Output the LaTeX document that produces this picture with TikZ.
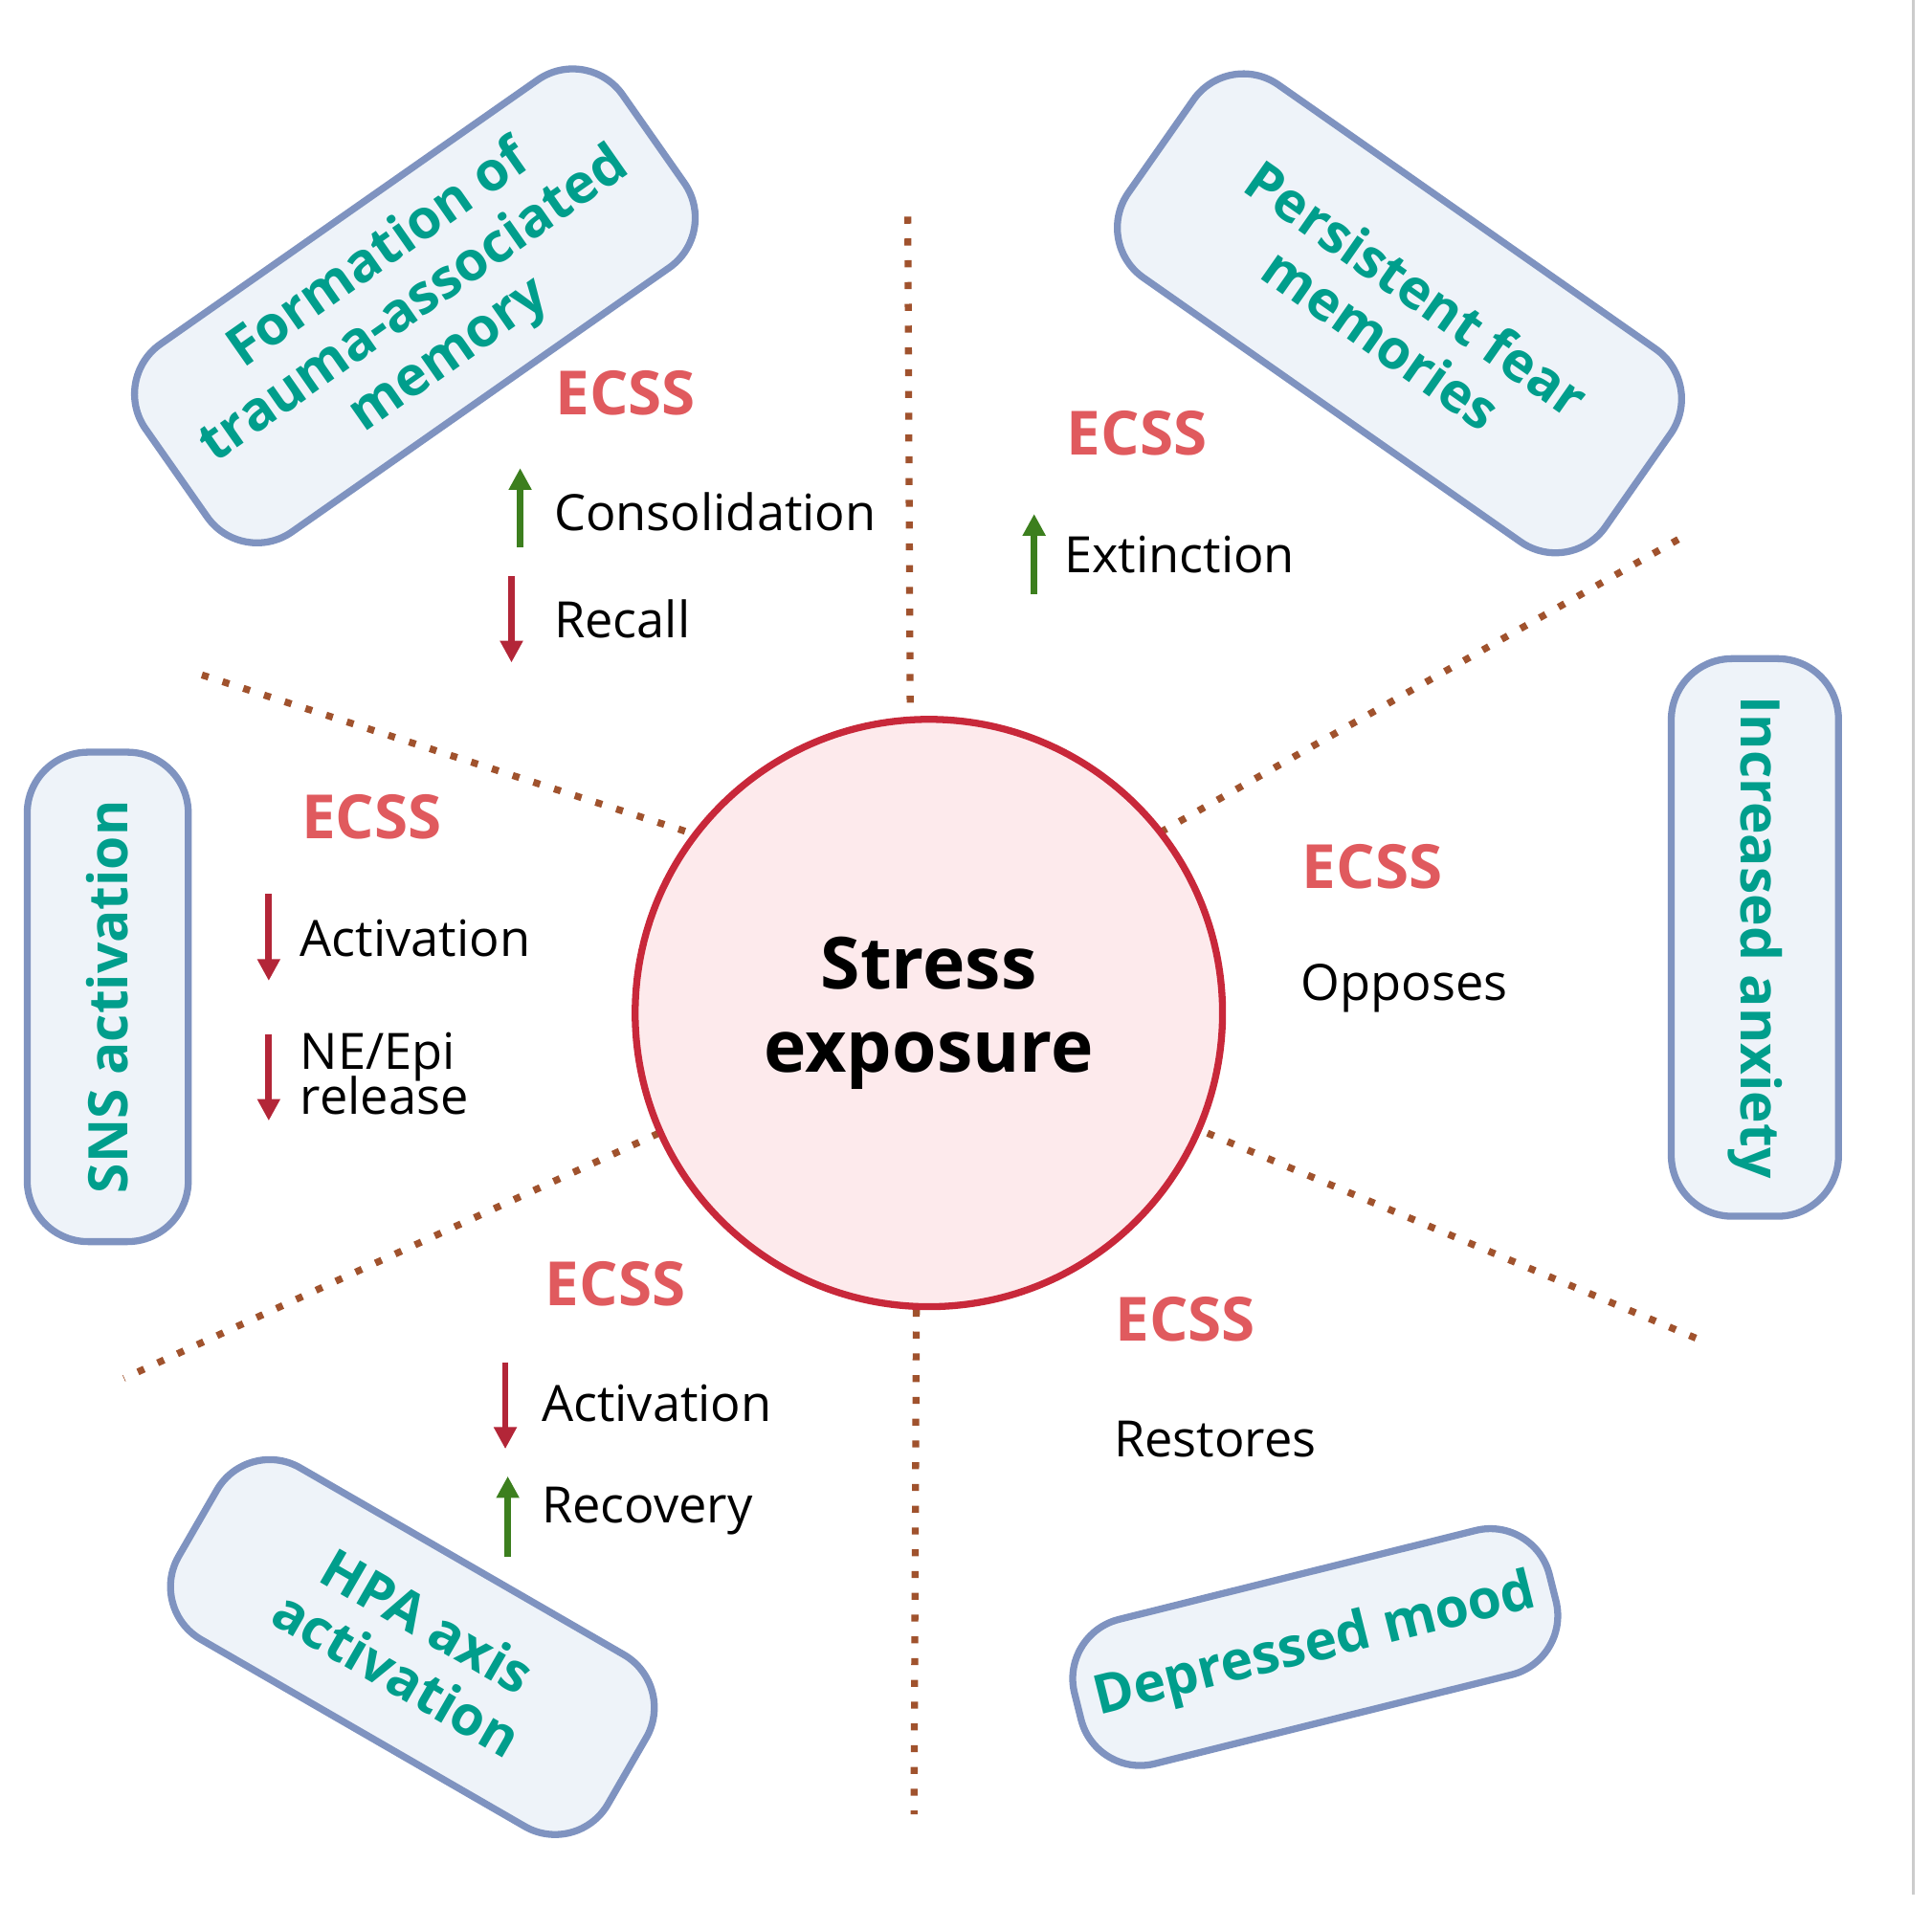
\documentclass[tikz,border=0pt]{standalone}
\usepackage{fontspec}
\setmainfont{Open Sans}
\usetikzlibrary{arrows.meta}
\definecolor{boxfill}{HTML}{EEF3F9}
\definecolor{boxedge}{HTML}{7F93C0}
\definecolor{teal}{HTML}{009E8C}
\definecolor{ecss}{HTML}{E05A5E}
\definecolor{circfill}{HTML}{FDEAEC}
\definecolor{circedge}{HTML}{C8283A}
\definecolor{dotc}{HTML}{A0522D}
\definecolor{upc}{HTML}{3C7F1E}
\definecolor{downc}{HTML}{B32638}
\begin{document}
\begin{tikzpicture}[x=0.01cm,y=-0.01cm,
  box/.style={draw=boxedge,line width=1.6pt,fill=boxfill,rounded corners=14pt,align=center,text=teal,font=\fontsize{12.5}{14}\selectfont\bfseries,inner sep=0pt},
  ecss/.style={text=ecss,font=\fontsize{14}{16}\selectfont\bfseries},
  lab/.style={anchor=west,font=\fontsize{11.5}{12.5}\selectfont,align=left},
  sep/.style={draw=dotc,line width=1.6pt,dash pattern=on 1.6pt off 3.4pt},
  up/.style={draw=upc,line width=1.5pt,-{Triangle[length=5pt,width=5pt]}},
  dn/.style={draw=downc,line width=1.5pt,-{Triangle[length=5pt,width=5pt]}}]
\useasboundingbox (0,0) rectangle (1560,1540);
\draw[gray!40,line width=0.6pt] (1545,0) -- (1545,1530);
% separators
\coordinate (s1a) at (733,175); \coordinate (s1b) at (735,585);
\coordinate (s2a) at (163,545); \coordinate (s2b) at (565,675);
\coordinate (s3a) at (937,672); \coordinate (s3b) at (1365,430);
\coordinate (s4a) at (975,915); \coordinate (s4b) at (1380,1085);
\coordinate (s5a) at (532,915); \coordinate (s5b) at (100,1113);
\coordinate (s6a) at (740,1040); \coordinate (s6b) at (738,1465);
\foreach \a/\b in {s1a/s1b,s2a/s2b,s3a/s3b,s4a/s4b,s5a/s5b,s6a/s6b} \path[sep] (\a) -- (\b);
% center
\node[circle,draw=circedge,line width=1.6pt,fill=circfill,minimum size=4.74cm,align=center,
  font=\fontsize{16.5}{19}\selectfont\bfseries] (c) at (750,818) {Stress\\exposure};
% boxes
\node[box,rotate=35,minimum width=4.7cm,minimum height=1.85cm] (b1) at (335,247) {Formation of\\trauma-associated\\memory};
\node[box,rotate=-35,minimum width=4.7cm,minimum height=1.9cm] (b2) at (1130,253) {Persistent fear\\memories};
\node[box,rotate=-90,minimum width=4.5cm,minimum height=1.35cm] (b3) at (1417,757) {Increased anxiety};
\node[box,rotate=90,minimum width=3.95cm,minimum height=1.3cm] (b4) at (87,805) {SNS activation};
\node[box,rotate=-30,minimum width=4.0cm,minimum height=1.6cm] (b5) at (333,1330) {HPA axis\\activation};
\node[box,rotate=14,minimum width=3.95cm,minimum height=1.2cm] (b6) at (1062,1330) {Depressed mood};
% ECSS labels
\node[ecss] (e1) at (505,317) {ECSS};
\node[ecss] (e2) at (918,350) {ECSS};
\node[ecss] (e3) at (300,660) {ECSS};
\node[ecss] (e4) at (1108,700) {ECSS};
\node[ecss] (e5) at (497,1037) {ECSS};
\node[ecss] (e6) at (957,1065) {ECSS};
% texts
\node[lab] (t1) at (435,413) {Consolidation};
\node[lab] (t2) at (435,500) {Recall};
\node[lab] (t3) at (847,448) {Extinction};
\node[lab] (t4) at (230,758) {Activation};
\node[lab] (t5) at (230,867) {NE/Epi\\[-2pt]release};
\node[lab] (t6) at (1038,798) {Opposes};
\node[lab] (t7) at (887,1162) {Restores};
\node[lab] (t8) at (425,1133) {Activation};
\node[lab] (t9) at (425,1220) {Recovery};
% arrows
\coordinate (a1a) at (420,442); \coordinate (a1b) at (420,378);
\coordinate (a2a) at (413,465); \coordinate (a2b) at (413,535);
\coordinate (a3a) at (835,480); \coordinate (a3b) at (835,415);
\coordinate (a4a) at (217,722); \coordinate (a4b) at (217,792);
\coordinate (a5a) at (217,835); \coordinate (a5b) at (217,905);
\coordinate (a6a) at (408,1100); \coordinate (a6b) at (408,1170);
\coordinate (a7a) at (410,1257); \coordinate (a7b) at (410,1192);
\draw[up] (a1a) -- (a1b);
\draw[dn] (a2a) -- (a2b);
\draw[up] (a3a) -- (a3b);
\draw[dn] (a4a) -- (a4b);
\draw[dn] (a5a) -- (a5b);
\draw[dn] (a6a) -- (a6b);
\draw[up] (a7a) -- (a7b);
\end{tikzpicture}
\end{document}
